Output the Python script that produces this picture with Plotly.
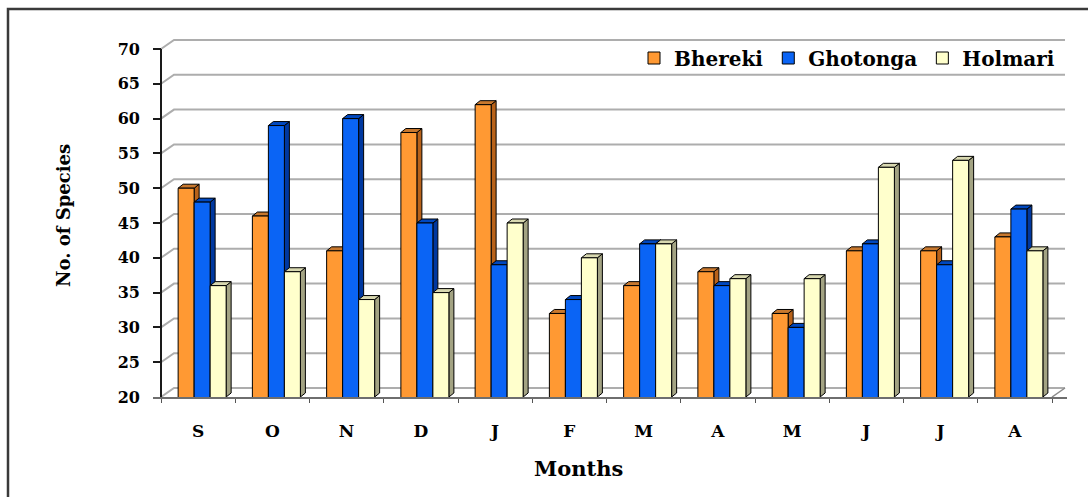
import plotly.graph_objects as go

# Monthly number of species at three sites
months = ["S", "O", "N", "D", "J", "F", "M", "A", "M", "J", "J", "A"]
bhereki = [50, 46, 41, 58, 62, 32, 36, 38, 32, 41, 41, 43]
ghotonga = [48, 59, 60, 45, 39, 34, 42, 36, 30, 42, 39, 47]
holmari = [36, 38, 34, 35, 45, 40, 42, 37, 37, 53, 54, 41]
y_ticks = [20, 25, 30, 35, 40, 45, 50, 55, 60, 65, 70]

# colours: front face, side face, top face
styles = {
    "Bhereki": ("#FF9933", "#B8621A", "#C8782E"),
    "Ghotonga": ("#0A64F5", "#0038A0", "#0048C0"),
    "Holmari": ("#FFFFCC", "#A3A383", "#D8D8B0"),
}
series = [("Bhereki", bhereki), ("Ghotonga", ghotonga), ("Holmari", holmari)]

# page / plot-area geometry
W, H = 1088, 497
ML, MR, MT, MB = 153, 21, 38, 100
n = len(months)
ppc = 74.25                      # pixels per category
x_lo = -0.5 - 8 / ppc
x_hi = n - 0.5 + 15 / ppc
y_lo = y_ticks[0]
y_hi = y_ticks[-1] + 11 / 6.96
ppy = (H - MT - MB) / (y_hi - y_lo)

# pseudo-3D depth: back wall and bar depth, converted to data units
wall_dx, wall_dy = 13 / ppc, 9 / ppy
bar_dx, bar_dy = 5 / ppc, 4 / ppy
bar_w = 16 / ppc
group_start = -20 / ppc

x_pos = list(range(n))
fig = go.Figure()
shapes = []

# back wall gridlines with their slanted left-wall segments
for v in y_ticks:
    shapes.append(dict(type="path", xref="x", yref="y", layer="below",
                       path=f"M{-0.5},{v} L{-0.5 + wall_dx},{v + wall_dy} "
                            f"L{n - 0.5 + wall_dx},{v + wall_dy}",
                       line=dict(color="#ADADAD", width=2)))
# right edge of the floor
shapes.append(dict(type="line", xref="x", yref="y", layer="below",
                   x0=n - 0.5, y0=y_lo, x1=n - 0.5 + wall_dx, y1=y_lo + wall_dy,
                   line=dict(color="#8A8A8A", width=1.5)))

for k, (name, vals) in enumerate(series):
    front, side, top = styles[name]
    off = group_start + k * bar_w
    fig.add_trace(go.Bar(
        x=x_pos, y=vals, name=name, offset=off, width=bar_w,
        marker=dict(color=front, line=dict(color="#000000", width=1)),
    ))
    # top and side faces of each column
    for j, v in enumerate(vals):
        xl = j + off
        xr = xl + bar_w
        shapes.append(dict(type="path", xref="x", yref="y", layer="below",
                           path=f"M{xr},{y_lo} L{xr + bar_dx},{y_lo + bar_dy} "
                                f"L{xr + bar_dx},{v + bar_dy} L{xr},{v} Z",
                           fillcolor=side, line=dict(color="#000000", width=1)))
        shapes.append(dict(type="path", xref="x", yref="y", layer="below",
                           path=f"M{xl},{v} L{xl + bar_dx},{v + bar_dy} "
                                f"L{xr + bar_dx},{v + bar_dy} L{xr},{v} Z",
                           fillcolor=top, line=dict(color="#000000", width=1)))

# vertical value axis line
shapes.append(dict(type="line", xref="x", yref="y", layer="above",
                   x0=-0.5, y0=y_ticks[0], x1=-0.5, y1=y_ticks[-1],
                   line=dict(color="#1A1A1A", width=2)))

# outer frame
def px_x(p):
    return (p - ML) / (W - ML - MR)

def px_y(p):
    return (H - MB - p) / (H - MT - MB)

shapes.append(dict(type="rect", xref="paper", yref="paper",
                   x0=px_x(8), y0=px_y(520), x1=px_x(1120), y1=px_y(9),
                   line=dict(color="#3A3A3A", width=2.5), fillcolor="rgba(0,0,0,0)"))

font_family = "DejaVu Serif"
fig.update_layout(
    width=W, height=H,
    margin=dict(l=ML, r=MR, t=MT, b=MB, pad=0),
    paper_bgcolor="white", plot_bgcolor="white",
    barmode="overlay",
    shapes=shapes,
    showlegend=True,
    legend=dict(orientation="h", x=px_x(1060), xanchor="right",
                y=px_y(58), yanchor="middle",
                bgcolor="rgba(0,0,0,0)",
                font=dict(family=font_family, size=20, color="#000000", weight="bold"),
                traceorder="normal", itemclick=False),
    xaxis=dict(range=[x_lo, x_hi], tickmode="array", tickvals=x_pos, ticktext=months,
               showgrid=False, zeroline=False, ticks="", ticklabelstandoff=18,
               showline=True, linecolor="#6E6E6E", linewidth=2,
               tickfont=dict(family=font_family, size=17, color="#000000", weight="bold"),
               minor=dict(tickmode="array", tickvals=[i - 0.5 for i in range(n + 1)],
                          ticks="outside", ticklen=4, tickwidth=1, tickcolor="#555555",
                          showgrid=False)),
    yaxis=dict(range=[y_lo, y_hi], tickmode="array", tickvals=y_ticks,
               showgrid=False, zeroline=False, showline=False,
               ticks="inside", ticklen=8, tickwidth=2, tickcolor="#1A1A1A",
               ticklabelstandoff=12,
               tickfont=dict(family=font_family, size=16, color="#000000", weight="bold")),
    annotations=[
        dict(text="Months", xref="paper", yref="paper", x=px_x(578), y=px_y(468),
             xanchor="center", yanchor="middle", showarrow=False,
             font=dict(family=font_family, size=21, color="#000000", weight="bold")),
        dict(text="No. of Species", xref="paper", yref="paper", x=px_x(64), y=px_y(216),
             xanchor="center", yanchor="middle", showarrow=False, textangle=-90,
             font=dict(family=font_family, size=18, color="#000000", weight="bold")),
    ],
)

fig.write_html("out.html")
